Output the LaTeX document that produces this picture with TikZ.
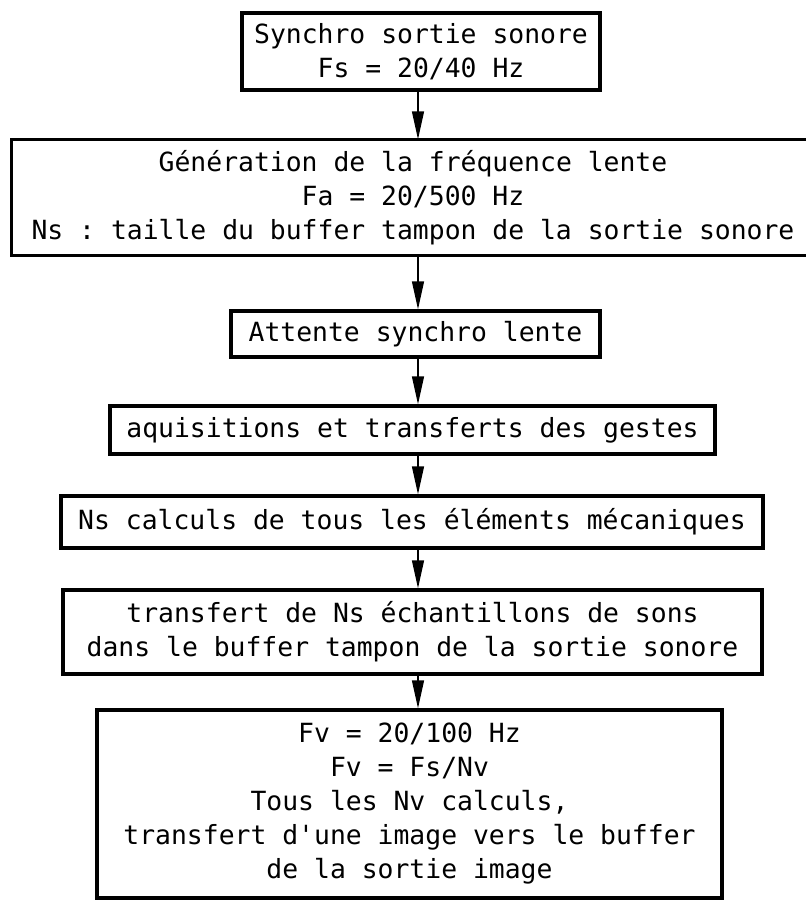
\documentclass[tikz,border=0pt]{standalone}
\usepackage{fontspec}
\setmonofont{DejaVu Sans Mono}
\usepackage{tikz}
\usetikzlibrary{arrows.meta}

\tikzset{
	cadre/.style={line width=1.7pt},
	bloc/.style={draw, cadre, inner sep=0pt, align=center,
		font=\fontsize{13.2}{17}\selectfont\ttfamily},
	fleche/.style={-{Triangle[length=14pt,width=6pt]}, line width=0.7pt}
}

\begin{document}
\begin{tikzpicture}[x=0.5pt,y=-0.5pt]
			\useasboundingbox (0,0) rectangle (806,907);
			\coordinate (axe) at (418,0);

			\node [bloc, minimum width=179pt, minimum height=38.5pt] (synchro) at (421,51.5)
				{Synchro sortie sonore\\Fs = 20/40 Hz};
			% cadre ouvert a droite : il sort de la page
			\node [bloc, draw=none, minimum width=400pt, minimum height=56.5pt] (generation) at (413,197.5)
				{Génération de la fréquence lente\\Fa = 20/500 Hz\\Ns : taille du buffer tampon de la sortie sonore};
			\draw [cadre] ([xshift=20pt]generation.north east) -| (generation.south west)
				-- ([xshift=20pt]generation.south east);
			\node [bloc, minimum width=184.5pt, minimum height=23pt] (attente) at (415.5,334)
				{Attente synchro lente};
			\node [bloc, minimum width=302.5pt, minimum height=24pt] (gestes) at (412.5,430)
				{aquisitions et transferts des gestes};
			\node [bloc, minimum width=351pt, minimum height=26pt] (calculs) at (412,522)
				{Ns calculs de tous les éléments mécaniques};
			\node [bloc, minimum width=349.5pt, minimum height=42pt] (sons) at (412.5,632)
				{transfert de Ns échantillons de sons\\dans le buffer tampon de la sortie sonore};
			\node [bloc, minimum width=312.5pt, minimum height=94pt] (image) at (409.5,804)
				{Fv = 20/100 Hz\\Fv = Fs/Nv\\Tous les Nv calculs,\\transfert d'une image vers le buffer\\de la sortie image};

			\foreach \de/\vers in {synchro/generation, generation/attente, attente/gestes,
					gestes/calculs, calculs/sons, sons/image}
				\draw [fleche] (\de.south -| axe) -- (\vers.north -| axe);
		\end{tikzpicture}
\end{document}
